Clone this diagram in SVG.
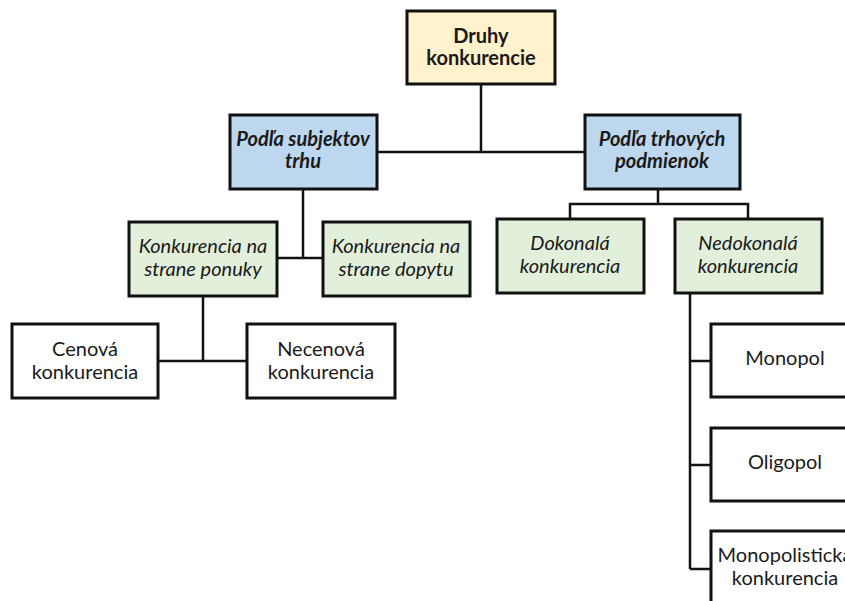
<svg xmlns="http://www.w3.org/2000/svg" width="845" height="601" viewBox="0 0 845 601">
<style>
.box{stroke:#111;stroke-width:3;}
.y{fill:#FFF2CC}.b{fill:#BDD7EE}.g{fill:#E2EFDA}.w{fill:#fff}
text{font-family:Lato,"Liberation Sans",sans-serif;font-size:20px;fill:#1a1a1a;text-anchor:middle;}
.bd{font-weight:bold}.bi{font-weight:bold;font-style:italic}.it{font-style:italic}
.con{stroke:#111;stroke-width:2.5;fill:none}
</style>
<rect width="845" height="601" fill="#fff"/>
<g id="connectors">
<path class="con" d="M481 84V152M377 152H585"/>
<path class="con" d="M303 189V258M277 258H323"/>
<path class="con" d="M658 189V204M570 219V204H748V219"/>
<path class="con" d="M203 296V361M158 361H247"/>
<path class="con" d="M690 293V569M690 361H711M690 465H711M690 569H711"/>
</g>
<g id="root"><rect class="box y" x="407" y="11" width="148" height="73"/><text class="bd" x="481" y="43">Druhy</text><text class="bd" x="481" y="65">konkurencie</text></g>
<g id="subjekty"><rect class="box b" x="230" y="115" width="147" height="74"/><text class="bi" x="303" y="146">Podľa subjektov</text><text class="bi" x="303" y="168">trhu</text></g>
<g id="trhove"><rect class="box b" x="585" y="115" width="155" height="74"/><text class="bi" x="662" y="146">Podľa trhových</text><text class="bi" x="662" y="168">podmienok</text></g>
<g id="ponuka"><rect class="box g" x="129" y="222" width="148" height="74"/><text class="it" x="203" y="253">Konkurencia na</text><text class="it" x="203" y="276">strane ponuky</text></g>
<g id="dopyt"><rect class="box g" x="323" y="222" width="147" height="74"/><text class="it" x="396" y="253">Konkurencia na</text><text class="it" x="396" y="276">strane dopytu</text></g>
<g id="dokonala"><rect class="box g" x="497" y="219" width="147" height="74"/><text class="it" x="570" y="250">Dokonalá</text><text class="it" x="570" y="273">konkurencia</text></g>
<g id="nedokonala"><rect class="box g" x="675" y="219" width="147" height="74"/><text class="it" x="748" y="250">Nedokonalá</text><text class="it" x="748" y="273">konkurencia</text></g>
<g id="cenova"><rect class="box w" x="12" y="324" width="146" height="74"/><text x="85" y="356">Cenová</text><text x="85" y="379">konkurencia</text></g>
<g id="necenova"><rect class="box w" x="247" y="324" width="148" height="74"/><text x="321" y="356">Necenová</text><text x="321" y="379">konkurencia</text></g>
<g id="monopol"><rect class="box w" x="711" y="324" width="148" height="73"/><text x="785" y="365">Monopol</text></g>
<g id="oligopol"><rect class="box w" x="711" y="428" width="148" height="73"/><text x="785" y="469">Oligopol</text></g>
<g id="monopolisticka"><rect class="box w" x="711" y="531" width="148" height="80"/><text x="785" y="562">Monopolistická</text><text x="785" y="585">konkurencia</text></g>
</svg>
